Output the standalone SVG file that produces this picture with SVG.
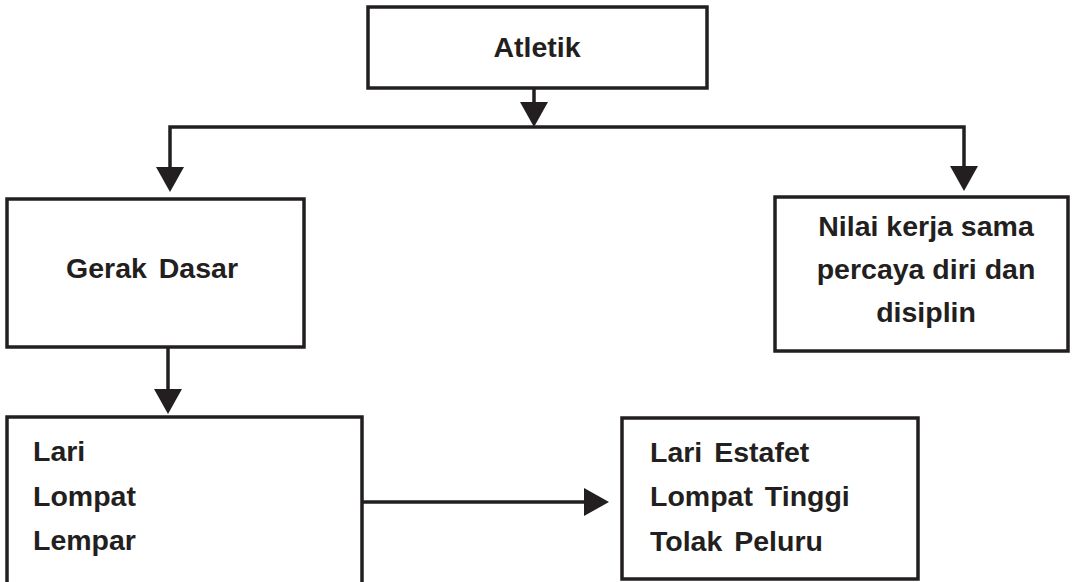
<svg xmlns="http://www.w3.org/2000/svg" width="1072" height="582" viewBox="0 0 1072 582">
  <style>
    .box { fill: #ffffff; stroke: #231f20; stroke-width: 3.5; }
    .conn { fill: none; stroke: #231f20; stroke-width: 3.5; stroke-linejoin: miter; }
    .t { font-family: "Liberation Sans", Arial, sans-serif; font-weight: bold; font-size: 28.5px; fill: #231f20; }
    .c { text-anchor: middle; }
    .ws { word-spacing: 4px; }
  </style>
  <defs>
    <marker id="arr" markerUnits="userSpaceOnUse" markerWidth="25" markerHeight="28" refX="0" refY="14" orient="auto" viewBox="0 0 25 28">
      <path d="M0,0 L25,14 L0,28 Z" fill="#231f20"/>
    </marker>
  </defs>
  <rect width="1072" height="582" fill="#ffffff"/>

  <g id="connectors">
    <path class="conn" d="M534,88 V102" marker-end="url(#arr)"/>
    <path class="conn" d="M534,127 H170 V167" marker-end="url(#arr)"/>
    <path class="conn" d="M534,127 H964 V166" marker-end="url(#arr)"/>
    <path class="conn" d="M168,347 V389" marker-end="url(#arr)"/>
    <path class="conn" d="M362,502 H584" marker-end="url(#arr)"/>
  </g>

  <g id="node-atletik">
    <rect class="box" x="368" y="7" width="339" height="81"/>
    <text class="t c" x="537" y="57">Atletik</text>
  </g>

  <g id="node-gerak-dasar">
    <rect class="box" x="7" y="199" width="297" height="148"/>
    <text class="t c ws" x="152" y="278">Gerak Dasar</text>
  </g>

  <g id="node-nilai">
    <rect class="box" x="775" y="197" width="293" height="154"/>
    <text class="t c" x="926" y="236">Nilai kerja sama</text>
    <text class="t c" x="926" y="279">percaya diri dan</text>
    <text class="t c" x="926" y="322">disiplin</text>
  </g>

  <g id="node-lari">
    <rect class="box" x="7" y="417" width="355" height="200"/>
    <text class="t" x="33" y="461">Lari</text>
    <text class="t" x="33" y="506">Lompat</text>
    <text class="t" x="33" y="550">Lempar</text>
  </g>

  <g id="node-cabang">
    <rect class="box" x="622" y="418" width="296" height="161"/>
    <text class="t ws" x="650" y="462">Lari Estafet</text>
    <text class="t ws" x="650" y="506">Lompat Tinggi</text>
    <text class="t ws" x="650" y="551">Tolak Peluru</text>
  </g>
</svg>
